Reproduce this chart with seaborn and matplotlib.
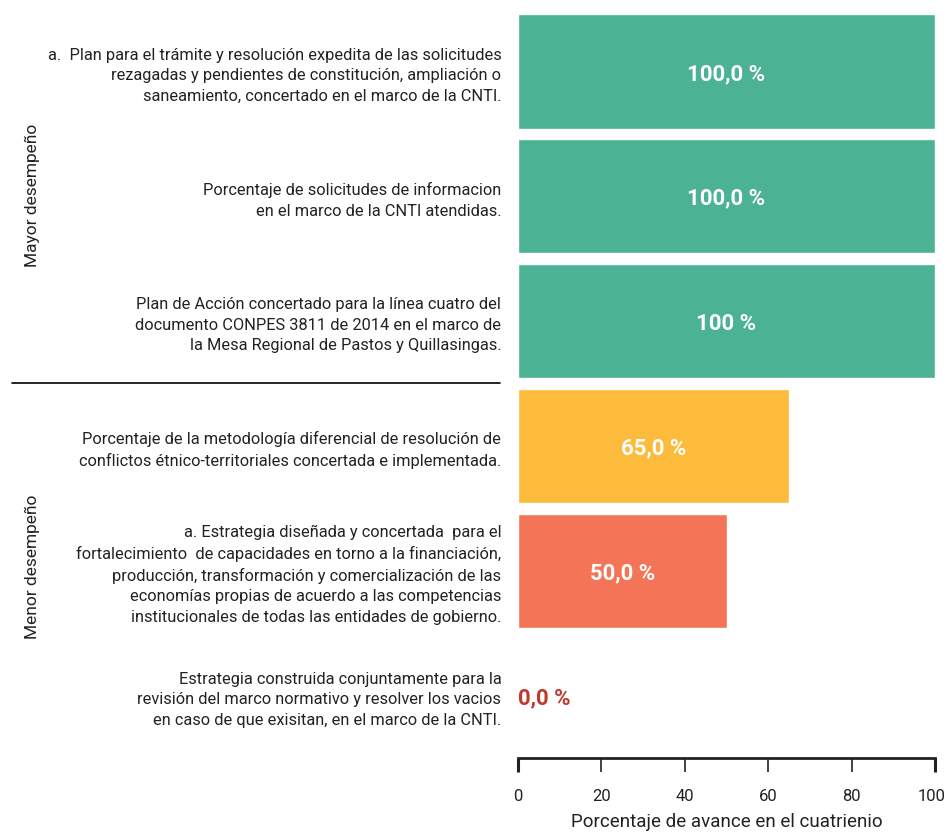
import matplotlib
matplotlib.use('Agg')
import matplotlib.pyplot as plt
import matplotlib.transforms as mtransforms
import seaborn as sns
import pandas as pd
from matplotlib.lines import Line2D

# Datos del gráfico
indicadores = [
    "a.  Plan para el trámite y resolución expedita de las solicitudes\nrezagadas y pendientes de constitución, ampliación o\nsaneamiento, concertado en el marco de la CNTI.",
    "Porcentaje de solicitudes de informacion\nen el marco de la CNTI atendidas.",
    "Plan de Acción concertado para la línea cuatro del\ndocumento CONPES 3811 de 2014 en el marco de\nla Mesa Regional de Pastos y Quillasingas.",
    "Porcentaje de la metodología diferencial de resolución de\nconflictos étnico-territoriales concertada e implementada.",
    "a. Estrategia diseñada y concertada  para el\nfortalecimiento  de capacidades en torno a la financiación,\nproducción, transformación y comercialización de las\neconomías propias de acuerdo a las competencias\ninstitucionales de todas las entidades de gobierno.",
    "Estrategia construida conjuntamente para la\nrevisión del marco normativo y resolver los vacios\nen caso de que exisitan, en el marco de la CNTI.",
]
avance = [100.0, 100.0, 100.0, 65.0, 50.0, 0.0]
etiquetas = ["100,0 %", "100,0 %", "100 %", "65,0 %", "50,0 %", "0,0 %"]
colores = ["#4bb293", "#4bb293", "#4bb293", "#fcbb3b", "#f37456", "#c0392b"]
grupos = ["Mayor desempeño", "Menor desempeño"]
ticks_x = [0, 20, 40, 60, 80, 100]

sns.set_style("white")
plt.rcParams['font.family'] = ['Roboto', 'DejaVu Sans']

df = pd.DataFrame({'Indicador': indicadores, 'Avance': avance})

fig = plt.figure(figsize=(9.47, 8.35), dpi=100)
ax = fig.add_axes([518 / 947, 1 - 758 / 835, 417 / 947, (758 - 9) / 835])

sns.barplot(data=df, y='Indicador', x='Avance', hue='Indicador',
            palette=colores, orient='h', width=0.915, legend=False,
            saturation=1, ax=ax)

ax.set_xlim(0, 100)
ax.set_ylim(5.5, -0.5)
ax.set_xticks(ticks_x)
ax.set_ylabel('')
ax.set_xlabel('Porcentaje de avance en el cuatrienio', fontsize=13.5, labelpad=7, color='#222222')

ax.tick_params(axis='y', left=False, length=0, pad=12, labelsize=11.8, labelcolor='#222222')
for lbl in ax.get_yticklabels():
    lbl.set_linespacing(1.45)
ax.tick_params(axis='x', bottom=True, length=10, width=1.2, direction='out', pad=12,
               labelsize=12, labelcolor='#222222', color='#222222')
# marcas extremas más gruesas
for t in [ax.xaxis.get_major_ticks()[0], ax.xaxis.get_major_ticks()[-1]]:
    t.tick1line.set_markeredgewidth(2.2)
# correr un poco la etiqueta "100" para que no se corte
ultimo = ax.xaxis.get_major_ticks()[-1].label1
ultimo.set_transform(ultimo.get_transform() +
                     mtransforms.ScaledTranslation(-3 / 100, 0, fig.dpi_scale_trans))

for s in ['top', 'right', 'left']:
    ax.spines[s].set_visible(False)
ax.spines['bottom'].set_linewidth(2)
ax.spines['bottom'].set_color('#222222')

# Etiquetas de valor
for i, (v, txt) in enumerate(zip(avance, etiquetas)):
    if v > 0:
        ax.text(v / 2, i + 0.02, txt, ha='center', va='center', color='white',
                fontsize=16, fontweight='semibold')
    else:
        ax.text(0, i + 0.02, txt, ha='left', va='center', color='#c0392b',
                fontsize=16, fontweight='semibold')

# Separador y etiquetas de grupo
fig.add_artist(Line2D([12 / 947, 500 / 947], [1 - 383 / 835, 1 - 383 / 835],
                      color='black', linewidth=1.2, transform=fig.transFigure))
fig.text(32 / 947, 1 - 195 / 835, grupos[0], rotation=90, ha='center', va='center',
         fontsize=12.5, color='#222222')
fig.text(32 / 947, 1 - 567 / 835, grupos[1], rotation=90, ha='center', va='center',
         fontsize=12.5, color='#222222')

fig.savefig('out.png', dpi=100)
